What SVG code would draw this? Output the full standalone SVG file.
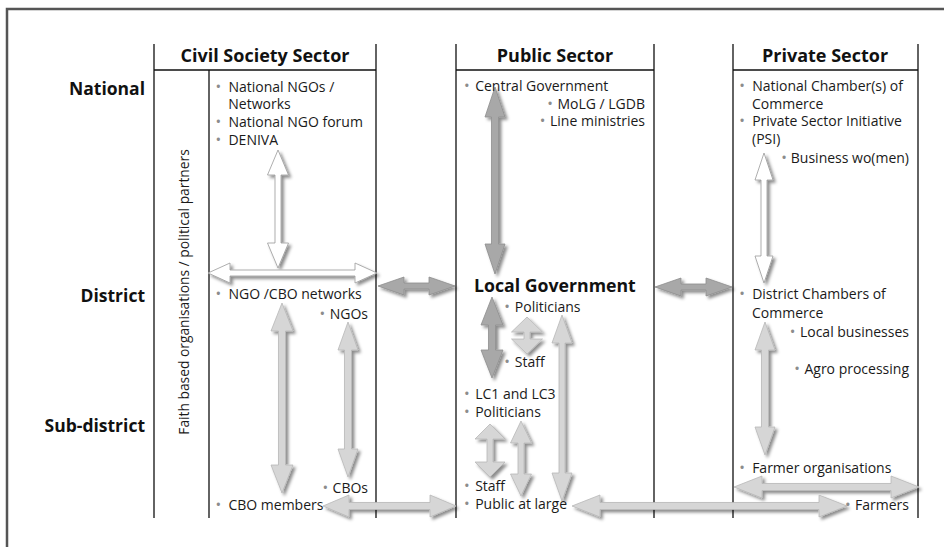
<svg xmlns="http://www.w3.org/2000/svg" width="944" height="547" viewBox="0 0 944 547">
<style>
.t{font-family:"Open Sans","Noto Sans","DejaVu Sans",sans-serif;font-size:14px;fill:#1a1a1a}
.h{font-family:"Open Sans","Noto Sans","DejaVu Sans",sans-serif;font-size:18px;font-weight:bold;fill:#111}
.r{font-size:17.5px}
.b{fill:#8c8c8c;font-size:15px}
.ln{stroke:#111;stroke-width:1.3;fill:none}
.w{fill:#fff;stroke:#9a9a9a;stroke-width:0.8}
.l{fill:#d6d6d6;stroke:#b8b8b8;stroke-width:0.8}
.d{fill:#a8a8a8;stroke:#8e8e8e;stroke-width:0.8}
</style>
<defs>
<filter id="sh" x="-30%" y="-30%" width="160%" height="160%">
<feDropShadow dx="2.5" dy="2.5" stdDeviation="1.8" flood-color="#000" flood-opacity="0.45"/>
</filter>
</defs>
<rect width="944" height="547" fill="#fff"/>
<path d="M7,560 V9 H950" fill="none" stroke="#555" stroke-width="2.5"/>
<g id="grid">
<path class="ln" d="M154,44V518M376,44V518M209,70V518M154,70H376M456,44V518M654,44V518M456,70H654M733,44V518M918,44V518M733,70H918"/>
</g>
<g id="headers">
<text class="h" x="265" y="62" text-anchor="middle">Civil Society Sector</text>
<text class="h" x="555" y="62" text-anchor="middle">Public Sector</text>
<text class="h" x="825" y="62" text-anchor="middle">Private Sector</text>
<text class="h r" x="145" y="95" text-anchor="end">National</text>
<text class="h r" x="145" y="302" text-anchor="end">District</text>
<text class="h r" x="145" y="432" text-anchor="end">Sub-district</text>
<text class="t" transform="translate(189,292) rotate(-90)" text-anchor="middle" style="font-size:13.8px">Faith based organisations / political partners</text>
</g>
<g id="connectors" filter="url(#sh)">
<path class="w" d="M278,150 L288.5,175 L281,175 L281,243 L288.5,243 L278,268 L267.5,243 L275,243 L275,175 L267.5,175 Z"/>
<path class="w" d="M208,273 L230,263 L230,270 L355,270 L355,263 L377,273 L355,283 L355,276 L230,276 L230,283 Z"/>
<path class="d" d="M378,286 L404,277 L404,283 L429,283 L429,277 L455,286 L429,295 L429,289 L404,289 L404,295 Z"/>
<path class="d" d="M495,87 L505,117 L498.5,117 L498.5,244 L505,244 L495,274 L485,244 L491.5,244 L491.5,117 L485,117 Z"/>
<path class="d" d="M655,287 L681,278 L681,284 L706,284 L706,278 L732,287 L706,296 L706,290 L681,290 L681,296 Z"/>
<path class="w" d="M764,153 L773,180 L767,180 L767,256 L773,256 L764,283 L755,256 L761,256 L761,180 L755,180 Z"/>
<path class="d" d="M492,297 L503,325 L495.5,325 L495.5,350 L503,350 L492,378 L481,350 L488.5,350 L488.5,325 L481,325 Z"/>
<path class="l" d="M527,317 L542.5,332 L530,332 L530,339 L542.5,339 L527,354 L511.5,339 L524,339 L524,332 L511.5,332 Z"/>
<path class="l" d="M562,315 L572,343 L565,343 L565,473 L572,473 L562,501 L552,473 L559,473 L559,343 L552,343 Z"/>
<path class="l" d="M490,424 L505,439 L493,439 L493,462 L505,462 L490,477 L475,462 L487,462 L487,439 L475,439 Z"/>
<path class="l" d="M521,421 L531.5,443 L524,443 L524,474 L531.5,474 L521,496 L510.5,474 L518,474 L518,443 L510.5,443 Z"/>
<path class="l" d="M282,303 L293,331 L285.5,331 L285.5,465 L293,465 L282,493 L271,465 L278.5,465 L278.5,331 L271,331 Z"/>
<path class="l" d="M348,322 L358,350 L351.5,350 L351.5,449 L358,449 L348,477 L338,449 L344.5,449 L344.5,350 L338,350 Z"/>
<path class="l" d="M765,322 L775,350 L768.5,350 L768.5,427 L775,427 L765,455 L755,427 L761.5,427 L761.5,350 L755,350 Z"/>
<path class="l" d="M323,506 L349,495 L349,502.5 L430,502.5 L430,495 L456,506 L430,517 L430,509.5 L349,509.5 L349,517 Z"/>
<path class="l" d="M572,506 L600,495 L600,502.5 L819,502.5 L819,495 L847,506 L819,517 L819,509.5 L600,509.5 L600,517 Z"/>
<path class="l" d="M734,487 L762,476 L762,483.5 L891,483.5 L891,476 L919,487 L891,498 L891,490.5 L762,490.5 L762,498 Z"/>
</g>
<g id="civil-national">
<text class="t" x="215.5" y="91.5"><tspan class="b">•</tspan><tspan dx="7.3">National NGOs /</tspan></text>
<text class="t" x="228.3" y="109">Networks</text>
<text class="t" x="215.5" y="127"><tspan class="b">•</tspan><tspan dx="7.3">National NGO forum</tspan></text>
<text class="t" x="215.5" y="144.5"><tspan class="b">•</tspan><tspan dx="7.3">DENIVA</tspan></text>
</g>
<g id="public-national">
<text class="t" x="464" y="91"><tspan class="b">•</tspan><tspan dx="5.5">Central Government</tspan></text>
<text class="t" x="645" y="108.5" text-anchor="end"><tspan class="b">•</tspan><tspan dx="4.5">MoLG / LGDB</tspan></text>
<text class="t" x="645" y="126" text-anchor="end"><tspan class="b">•</tspan><tspan dx="4.5">Line ministries</tspan></text>
</g>
<g id="private-national">
<text class="t" x="739.2" y="91"><tspan class="b">•</tspan><tspan dx="7.3">National Chamber(s) of</tspan></text>
<text class="t" x="752" y="108.5">Commerce</text>
<text class="t" x="739.2" y="126"><tspan class="b">•</tspan><tspan dx="7.3">Private Sector Initiative</tspan></text>
<text class="t" x="752" y="143.5">(PSI)</text>
<text class="t" x="909" y="163" text-anchor="end"><tspan class="b">•</tspan><tspan dx="4">Business wo(men)</tspan></text>
</g>
<g id="civil-district">
<text class="t" x="215.5" y="299"><tspan class="b">•</tspan><tspan dx="7.3">NGO /CBO networks</tspan></text>
<text class="t" x="368" y="319" text-anchor="end"><tspan class="b">•</tspan><tspan dx="4.5">NGOs</tspan></text>
<text class="t" x="368" y="492.5" text-anchor="end"><tspan class="b">•</tspan><tspan dx="4.5">CBOs</tspan></text>
<text class="t" x="215.5" y="510"><tspan class="b">•</tspan><tspan dx="7.3">CBO members</tspan></text>
</g>
<g id="local-government">
<text class="h" x="474" y="292" style="font-size:17.7px">Local Government</text>
<text class="t" x="504.2" y="312"><tspan class="b">•</tspan><tspan dx="5">Politicians</tspan></text>
<text class="t" x="504.2" y="367"><tspan class="b">•</tspan><tspan dx="5">Staff</tspan></text>
</g>
<g id="public-subdistrict">
<text class="t" x="464" y="399"><tspan class="b">•</tspan><tspan dx="5.5">LC1 and LC3</tspan></text>
<text class="t" x="464" y="417"><tspan class="b">•</tspan><tspan dx="5.5">Politicians</tspan></text>
<text class="t" x="464" y="491"><tspan class="b">•</tspan><tspan dx="5.5">Staff</tspan></text>
<text class="t" x="464" y="509"><tspan class="b">•</tspan><tspan dx="5.5">Public at large</tspan></text>
</g>
<g id="private-district">
<text class="t" x="739.2" y="299"><tspan class="b">•</tspan><tspan dx="7.3">District Chambers of</tspan></text>
<text class="t" x="752" y="318">Commerce</text>
<text class="t" x="909" y="337" text-anchor="end"><tspan class="b">•</tspan><tspan dx="4.5">Local businesses</tspan></text>
<text class="t" x="909" y="374" text-anchor="end"><tspan class="b">•</tspan><tspan dx="4.5">Agro processing</tspan></text>
<text class="t" x="739.2" y="473"><tspan class="b">•</tspan><tspan dx="7.3">Farmer organisations</tspan></text>
<text class="t" x="909" y="510" text-anchor="end"><tspan class="b">•</tspan><tspan dx="4.5">Farmers</tspan></text>
</g>
</svg>
